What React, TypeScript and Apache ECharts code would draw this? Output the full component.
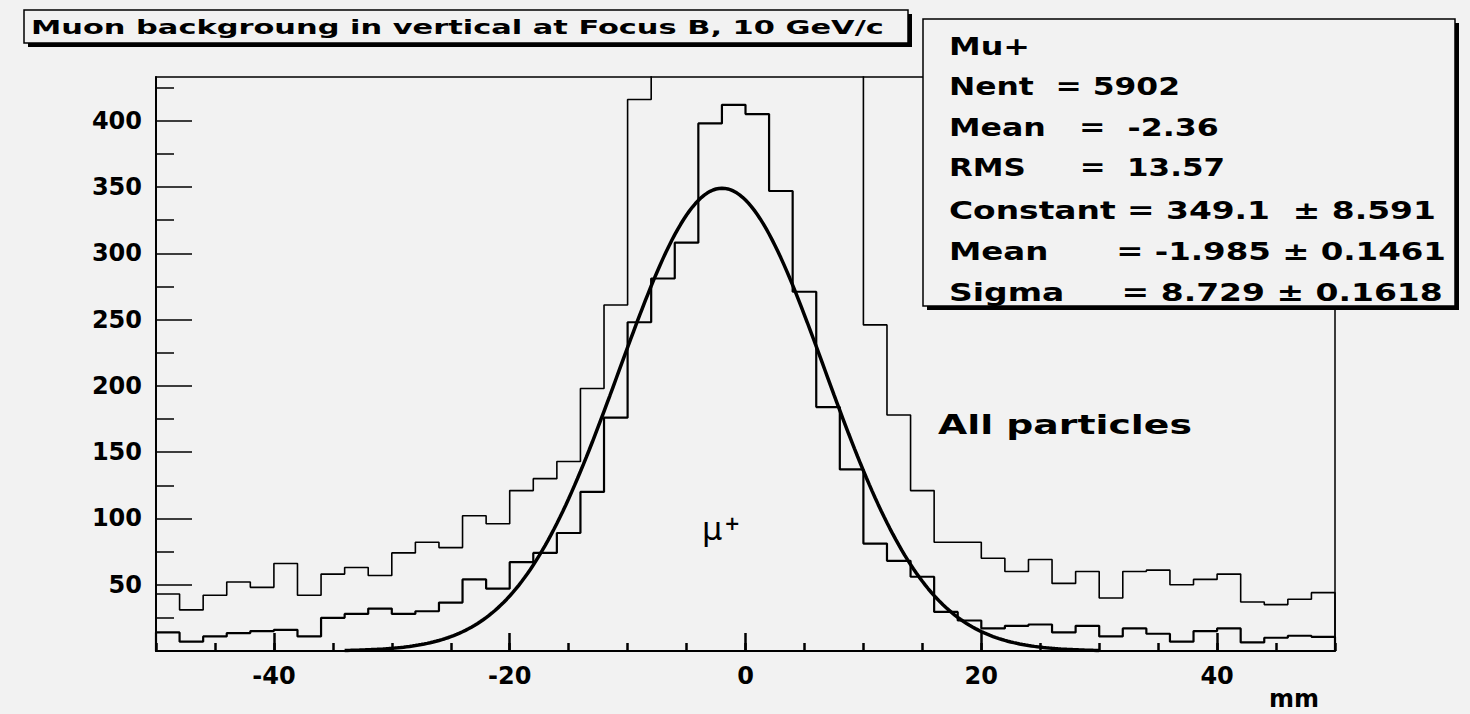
import React, { useEffect, useRef } from "react";
import * as echarts from "echarts";

// ---------- data ----------
const BIN_LOW_EDGES = [
  -50, -48, -46, -44, -42, -40, -38, -36, -34, -32,
  -30, -28, -26, -24, -22, -20, -18, -16, -14, -12,
  -10, -8, -6, -4, -2, 0, 2, 4, 6, 8,
  10, 12, 14, 16, 18, 20, 22, 24, 26, 28,
  30, 32, 34, 36, 38, 40, 42, 44, 46, 48,
];
const BIN_WIDTH = 2;

// "All particles" (peak bins run off the top of the frame)
const ALL_PARTICLES = [
  43, 31, 42, 52, 48, 66, 42, 58, 63, 57,
  74, 82, 78, 102, 96, 121, 130, 143, 198, 261,
  416, 520, 640, 760, 820, 800, 730, 640, 540, 460,
  246, 178, 121, 82, 82, 70, 60, 69, 51, 60,
  40, 60, 61, 50, 54, 58, 37, 35, 39, 44,
];

// "Mu+"
const MU_PLUS = [
  14, 7, 11, 13.5, 15, 16, 11, 25, 28, 32,
  28, 30, 36.5, 54, 47, 67, 74, 89, 120, 176,
  248, 281, 308, 398, 412, 405, 347, 271, 184, 137,
  81, 68, 56, 29.5, 23, 17, 19, 20, 14, 19,
  11, 17, 13, 7, 15, 17, 6.5, 10, 11.5, 10.7,
];

// Gaussian fit parameters printed in the stats box
const FIT_CONSTANT = 349.1;
const FIT_MEAN = -1.985;
const FIT_SIGMA = 8.729;
const FIT_RANGE = [-34, 30];

const X_MAJOR_TICKS = [-40, -20, 0, 20, 40];
const X_MINOR_STEP = 5;
const Y_MAJOR_TICKS = [50, 100, 150, 200, 250, 300, 350, 400];
const Y_MINOR_TICKS = [25, 75, 125, 175, 225, 275, 325, 375, 425];

const TITLE = "Muon backgroung in vertical at Focus B, 10 GeV/c";
const STATS_LINES = [
  "Mu+",
  "Nent  = 5902",
  "Mean   =  -2.36",
  "RMS     =  13.57",
  "Constant = 349.1  \u00B1 8.591",
  "Mean      = -1.985 \u00B1 0.1461",
  "Sigma     = 8.729 \u00B1 0.1618",
];
const ALL_LABEL = "All particles";
const X_NAME = "mm";

// ---------- layout ----------
const BG = "#f2f2f2";
const FONT = "DejaVu Sans";
const STATS_LEFT = 949;
const STATS_RIGHTS = [1030, 1180, 1219, 1225, 1436, 1446, 1443];
const STATS_YS = [47, 87, 128, 168, 211, 252, 293];

function measure(text: string, font: string): number {
  const c = document.createElement("canvas").getContext("2d")!;
  c.font = font;
  return c.measureText(text).width;
}

function stepData(values: number[]): number[][] {
  const pts: number[][] = [[BIN_LOW_EDGES[0], 0]];
  values.forEach((v, i) => pts.push([BIN_LOW_EDGES[i], v]));
  const lastEdge = BIN_LOW_EDGES[BIN_LOW_EDGES.length - 1] + BIN_WIDTH;
  pts.push([lastEdge, values[values.length - 1]]);
  pts.push([lastEdge, 0]);
  return pts;
}

function fitData(): number[][] {
  const pts: number[][] = [];
  for (let x = FIT_RANGE[0]; x <= FIT_RANGE[1] + 1e-9; x += 0.25) {
    const d = (x - FIT_MEAN) / FIT_SIGMA;
    pts.push([x, FIT_CONSTANT * Math.exp(-0.5 * d * d)]);
  }
  return pts;
}

function fittedText(text: string, x: number, y: number, right: number, size: number, z = 110) {
  const font = `bold ${size}px "${FONT}"`;
  const w = measure(text, font);
  return {
    type: "text",
    x,
    y,
    scaleX: (right - x) / w,
    z,
    style: {
      text,
      fontFamily: FONT,
      fontWeight: "bold",
      fontSize: size,
      fill: "#000",
      textAlign: "left",
      textVerticalAlign: "middle",
      verticalAlign: "middle",
    },
  };
}

export default function App() {
  const ref = useRef<HTMLDivElement>(null);

  useEffect(() => {
    const chart = echarts.init(ref.current!, null, { renderer: "svg" });

    const axisLabelStyle = {
      fontFamily: FONT,
      fontWeight: "bold" as const,
      fontSize: 24,
      color: "#000",
    };
    const tickLine = { color: "#000", width: 1.5 };
    const xTickLine = { color: "#000", width: 2.5 };

    const graphic: any[] = [
      // title box
      { type: "rect", z: 100, shape: { x: 28, y: 14, width: 884, height: 33 }, style: { fill: "#000" } },
      { type: "rect", z: 101, shape: { x: 24, y: 10, width: 884, height: 33 }, style: { fill: BG, stroke: "#000", lineWidth: 1.5 } },
      fittedText(TITLE, 31, 27, 884, 19),
      // stats box
      { type: "rect", z: 100, shape: { x: 927, y: 23, width: 532, height: 287 }, style: { fill: "#000" } },
      { type: "rect", z: 101, shape: { x: 923, y: 19, width: 532, height: 287 }, style: { fill: BG, stroke: "#000", lineWidth: 1.5 } },
      ...STATS_LINES.map((t, i) => fittedText(t, STATS_LEFT, STATS_YS[i], STATS_RIGHTS[i], 24)),
      // annotations
      fittedText(ALL_LABEL, 938, 425, 1192, 27),
      {
        type: "text",
        x: 702,
        y: 529,
        z: 110,
        style: {
          text: "{m|\u03BC}{p|+}",
          textVerticalAlign: "middle",
          verticalAlign: "middle",
          rich: {
            m: { fontFamily: FONT, fontSize: 32, fill: "#000", color: "#000" },
            p: { fontFamily: FONT, fontWeight: "bold", fontSize: 19, fill: "#000", color: "#000", verticalAlign: "top", padding: [0, 0, 0, 2] },
          },
        },
      },
    ];

    const option: any = {
      animation: false,
      backgroundColor: BG,
      grid: {
        left: 156,
        right: 135,
        top: 77,
        bottom: 63,
        show: true,
        borderColor: "#000",
        borderWidth: 1.5,
        backgroundColor: "transparent",
      },
      xAxis: [
        {
          type: "value",
          min: -50,
          max: 50,
          interval: X_MINOR_STEP,
          position: "bottom",
          axisLine: { show: true, onZero: false, lineStyle: { color: "#000", width: 2 } },
          axisTick: { show: true, inside: true, length: 8, lineStyle: xTickLine },
          axisLabel: {
            ...axisLabelStyle,
            margin: 13,
            formatter: (v: number) => (X_MAJOR_TICKS.indexOf(v) >= 0 ? String(v) : ""),
          },
          splitLine: { show: false },
          name: X_NAME,
          nameLocation: "end",
          nameGap: -66,
          nameTextStyle: {
            fontFamily: FONT,
            fontWeight: "bold",
            fontSize: 24,
            color: "#000",
            align: "left",
            verticalAlign: "top",
            padding: [36, 0, 0, 0],
          },
        },
        {
          type: "value",
          min: -50,
          max: 50,
          position: "bottom",
          axisLine: { show: false, onZero: false },
          axisTick: { show: true, inside: true, length: 18, customValues: X_MAJOR_TICKS, lineStyle: xTickLine },
          axisLabel: { show: false },
          splitLine: { show: false },
        },
      ],
      yAxis: [
        {
          type: "value",
          min: 0,
          max: 433,
          position: "left",
          axisLine: { show: true, onZero: false, lineStyle: { color: "#000", width: 2 } },
          axisTick: { show: true, inside: true, length: 36, customValues: Y_MAJOR_TICKS, lineStyle: tickLine },
          axisLabel: { ...axisLabelStyle, margin: 14, customValues: Y_MAJOR_TICKS },
          splitLine: { show: false },
        },
        {
          type: "value",
          min: 0,
          max: 433,
          position: "left",
          axisLine: { show: false, onZero: false },
          axisTick: { show: true, inside: true, length: 18, customValues: Y_MINOR_TICKS, lineStyle: tickLine },
          axisLabel: { show: false },
          splitLine: { show: false },
        },
      ],
      series: [
        {
          name: "All particles",
          type: "line",
          step: "end",
          data: stepData(ALL_PARTICLES),
          symbol: "none",
          clip: true,
          lineStyle: { color: "#000", width: 1.6 },
          z: 3,
        },
        {
          name: "Mu+",
          type: "line",
          step: "end",
          data: stepData(MU_PLUS),
          symbol: "none",
          clip: true,
          lineStyle: { color: "#000", width: 2.2 },
          z: 4,
        },
        {
          name: "Gaussian fit",
          type: "line",
          data: fitData(),
          symbol: "none",
          clip: true,
          smooth: false,
          lineStyle: { color: "#000", width: 3.5 },
          z: 5,
        },
      ],
      graphic,
    };

    chart.setOption(option);
    return () => chart.dispose();
  }, []);

  return (
    <div
      ref={ref}
      style={{ position: "fixed", left: 0, top: 0, width: 1470, height: 714, background: BG }}
    />
  );
}
